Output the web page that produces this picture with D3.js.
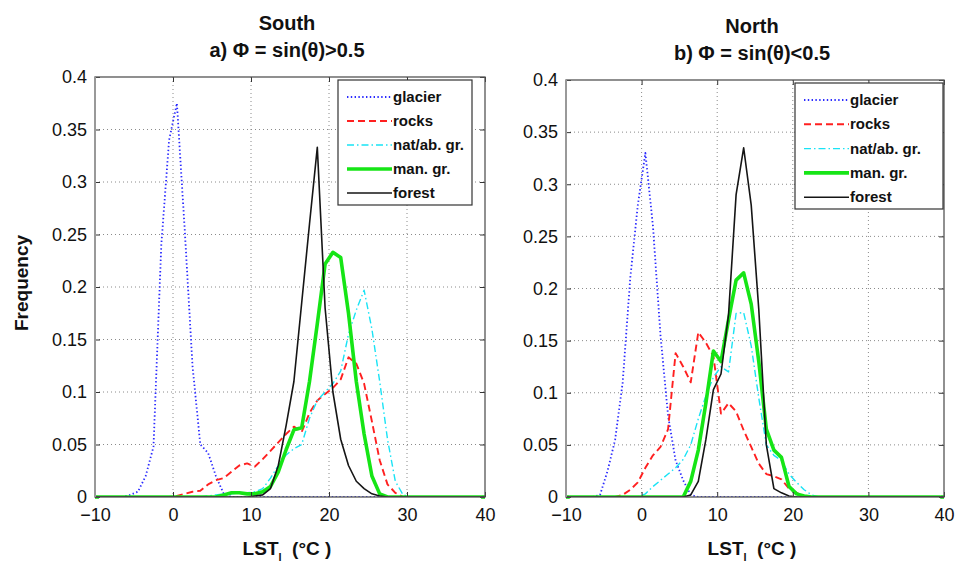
<!DOCTYPE html>
<html>
<head>
<meta charset="utf-8">
<script src="https://cdn.jsdelivr.net/npm/d3@7"></script>
<style>
  body { margin: 0; background: #fff; }
  text { font-family: 'Liberation Sans', Arial, sans-serif; fill: #111; }
</style>
</head>
<body>
<div id="d3-container"></div>
<script>
// histogram bin centres (deg C)
const lstBins = [
  -9.5, -8.5, -7.5, -6.5, -5.5, -4.5, -3.5, -2.5, -1.5, -0.5,
  0.5, 1.5, 2.5, 3.5, 4.5, 5.5, 6.5, 7.5, 8.5, 9.5,
  10.5, 11.5, 12.5, 13.5, 14.5, 15.5, 16.5, 17.5, 18.5, 19.5,
  20.5, 21.5, 22.5, 23.5, 24.5, 25.5, 26.5, 27.5, 28.5, 29.5,
  30.5, 31.5, 32.5, 33.5, 34.5, 35.5, 36.5, 37.5, 38.5, 39.5
];
const xTicks = [-10, 0, 10, 20, 30, 40];
const yTicks = [0, 0.05, 0.1, 0.15, 0.2, 0.25, 0.3, 0.35, 0.4];
const yTickLabels = ['0', '0.05', '0.1', '0.15', '0.2', '0.25', '0.3', '0.35', '0.4'];
const classNames = ['glacier', 'rocks', 'nat/ab. gr.', 'man. gr.', 'forest'];

// South, a) phi > 0.5
const southGlacier = [
  0, 0, 0, 0, 0.002, 0.005, 0.02, 0.048, 0.24, 0.34,
  0.375, 0.255, 0.125, 0.05, 0.042, 0.02, 0.003, 0, 0, 0,
  0, 0, 0, 0, 0, 0, 0, 0, 0, 0,
  0, 0, 0, 0, 0, 0, 0, 0, 0, 0,
  0, 0, 0, 0, 0, 0, 0, 0, 0, 0
];
const southRocks = [
  0, 0, 0, 0, 0, 0, 0, 0, 0, 0,
  0.001, 0.003, 0.005, 0.006, 0.012, 0.016, 0.018, 0.024, 0.03, 0.032,
  0.029, 0.036, 0.044, 0.052, 0.06, 0.067, 0.062, 0.08, 0.092, 0.098,
  0.104, 0.112, 0.133, 0.127, 0.108, 0.072, 0.035, 0.012, 0.004, 0,
  0, 0, 0, 0, 0, 0, 0, 0, 0, 0
];
const southNatural = [
  0, 0, 0, 0, 0, 0, 0, 0, 0, 0,
  0, 0, 0, 0, 0.001, 0.002, 0.003, 0.003, 0.004, 0.004,
  0.005, 0.008, 0.018, 0.03, 0.04, 0.046, 0.05, 0.075, 0.092, 0.1,
  0.108, 0.12, 0.155, 0.178, 0.197, 0.16, 0.11, 0.055, 0.015, 0.002,
  0, 0, 0, 0, 0, 0, 0, 0, 0, 0
];
const southManaged = [
  0, 0, 0, 0, 0, 0, 0, 0, 0, 0,
  0, 0, 0, 0, 0, 0, 0.002, 0.004, 0.004, 0.003,
  0.003, 0.005, 0.01, 0.024, 0.045, 0.064, 0.066, 0.11, 0.165, 0.222,
  0.233, 0.228, 0.175, 0.11, 0.06, 0.02, 0.003, 0, 0, 0,
  0, 0, 0, 0, 0, 0, 0, 0, 0, 0
];
const southForest = [
  0, 0, 0, 0, 0, 0, 0, 0, 0, 0,
  0, 0, 0, 0, 0, 0, 0, 0, 0, 0,
  0.001, 0.002, 0.008, 0.03, 0.068, 0.11, 0.185, 0.26, 0.333, 0.18,
  0.1, 0.055, 0.03, 0.015, 0.008, 0.003, 0.001, 0, 0, 0,
  0, 0, 0, 0, 0, 0, 0, 0, 0, 0
];

// North, b) phi < 0.5
const northGlacier = [
  0, 0, 0, 0, 0.002, 0.025, 0.055, 0.11, 0.21, 0.28,
  0.33, 0.26, 0.155, 0.078, 0.035, 0.016, 0.002, 0, 0, 0,
  0, 0, 0, 0, 0, 0, 0, 0, 0, 0,
  0, 0, 0, 0, 0, 0, 0, 0, 0, 0,
  0, 0, 0, 0, 0, 0, 0, 0, 0, 0
];
const northRocks = [
  0, 0, 0, 0, 0, 0, 0, 0.002, 0.007, 0.014,
  0.028, 0.04, 0.048, 0.065, 0.138, 0.125, 0.11, 0.158, 0.148, 0.135,
  0.08, 0.09, 0.082, 0.064, 0.048, 0.032, 0.022, 0.02, 0.017, 0.008,
  0.004, 0.001, 0, 0, 0, 0, 0, 0, 0, 0,
  0, 0, 0, 0, 0, 0, 0, 0, 0, 0
];
const northNatural = [
  0, 0, 0, 0, 0, 0, 0, 0, 0, 0,
  0.003, 0.01, 0.016, 0.022, 0.028, 0.036, 0.05, 0.075, 0.097, 0.115,
  0.125, 0.12, 0.176, 0.177, 0.145, 0.095, 0.05, 0.04, 0.035, 0.022,
  0.014, 0.007, 0.002, 0, 0, 0, 0, 0, 0, 0,
  0, 0, 0, 0, 0, 0, 0, 0, 0, 0
];
const northManaged = [
  0, 0, 0, 0, 0, 0, 0, 0, 0, 0,
  0, 0, 0, 0, 0, 0, 0.015, 0.045, 0.09, 0.14,
  0.13, 0.17, 0.208, 0.215, 0.185, 0.13, 0.065, 0.045, 0.038, 0.01,
  0.003, 0.001, 0, 0, 0, 0, 0, 0, 0, 0,
  0, 0, 0, 0, 0, 0, 0, 0, 0, 0
];
const northForest = [
  0, 0, 0, 0, 0, 0, 0, 0, 0, 0,
  0, 0, 0, 0, 0, 0, 0.002, 0.015, 0.055, 0.103,
  0.118, 0.175, 0.29, 0.335, 0.28, 0.18, 0.05, 0.008, 0.004, 0.001,
  0, 0, 0, 0, 0, 0, 0, 0, 0, 0,
  0, 0, 0, 0, 0, 0, 0, 0, 0, 0
];

// line styles, one per class
var styles = [
  { color: '#2a2aff', width: 1.8, dash: '1.4,2.4' },
  { color: '#ff2020', width: 1.9, dash: '7,4' },
  { color: '#19e3f5', width: 1.4, dash: '7,3,1.5,3' },
  { color: '#16e516', width: 3.6, dash: null },
  { color: '#151515', width: 1.6, dash: null }
];

var panels = [
  {
    id: 'south', title: 'South', sub: 'a) \u03A6 = sin(\u03B8)>0.5',
    left: 95, right: 485, top: 77, bottom: 497,
    series: [southGlacier, southRocks, southNatural, southManaged, southForest],
    legend: { x: 338, y: 80, w: 134, h: 125, rowY: 17, step: 24 },
    showYLabel: true
  },
  {
    id: 'north', title: 'North', sub: 'b) \u03A6 = sin(\u03B8)<0.5',
    left: 566, right: 944, top: 80, bottom: 497,
    series: [northGlacier, northRocks, northNatural, northManaged, northForest],
    legend: { x: 795, y: 83, w: 148, h: 126, rowY: 17, step: 24.3 },
    showYLabel: false
  }
];

var svg = d3
  .select('#d3-container')
  .append('svg')
  .attr('width', 956)
  .attr('height', 562)
  .style('background-color', 'white');

panels.forEach(function (p) {
  var x = d3.scaleLinear().domain([-10, 40]).range([p.left, p.right]);
  var y = d3.scaleLinear().domain([0, 0.4]).range([p.bottom, p.top]);
  var w = p.right - p.left,
    h = p.bottom - p.top;

  var g = svg.append('g');

  // dotted grid
  g.selectAll('.gx')
    .data(xTicks.slice(1, -1))
    .enter()
    .append('line')
    .attr('x1', function (d) { return x(d); })
    .attr('x2', function (d) { return x(d); })
    .attr('y1', p.top)
    .attr('y2', p.bottom)
    .attr('stroke', '#8a8a8a')
    .attr('stroke-width', 1)
    .attr('stroke-dasharray', '1,3');
  g.selectAll('.gy')
    .data(yTicks.slice(1, -1))
    .enter()
    .append('line')
    .attr('x1', p.left)
    .attr('x2', p.right)
    .attr('y1', function (d) { return y(d); })
    .attr('y2', function (d) { return y(d); })
    .attr('stroke', '#8a8a8a')
    .attr('stroke-width', 1)
    .attr('stroke-dasharray', '1,3');

  // curves
  g.append('clipPath')
    .attr('id', 'clip-' + p.id)
    .append('rect')
    .attr('x', p.left)
    .attr('y', p.top - 2)
    .attr('width', w)
    .attr('height', h + 2);

  var line = d3
    .line()
    .x(function (d, i) { return x(lstBins[i]); })
    .y(function (d) { return y(d); });

  p.series.forEach(function (vals, k) {
    var s = styles[k];
    g.append('path')
      .datum(vals)
      .attr('clip-path', 'url(#clip-' + p.id + ')')
      .attr('fill', 'none')
      .attr('stroke', s.color)
      .attr('stroke-width', s.width)
      .attr('stroke-linejoin', 'round')
      .attr('stroke-dasharray', s.dash)
      .attr('d', line);
    // flat tails to the plot edges
    g.append('line')
      .attr('x1', p.left)
      .attr('x2', x(lstBins[0]))
      .attr('y1', y(vals[0]))
      .attr('y2', y(vals[0]))
      .attr('stroke', s.color)
      .attr('stroke-width', s.width)
      .attr('stroke-dasharray', s.dash);
    g.append('line')
      .attr('x1', x(lstBins[lstBins.length - 1]))
      .attr('x2', p.right)
      .attr('y1', y(vals[vals.length - 1]))
      .attr('y2', y(vals[vals.length - 1]))
      .attr('stroke', s.color)
      .attr('stroke-width', s.width)
      .attr('stroke-dasharray', s.dash);
  });

  // axes with inward ticks
  g.append('g')
    .attr('transform', 'translate(0,' + p.bottom + ')')
    .call(d3.axisBottom(x).tickValues(xTicks).tickSize(-5).tickPadding(11).tickFormat(d3.format('d')));
  g.append('g')
    .attr('transform', 'translate(' + p.left + ',0)')
    .call(d3.axisLeft(y).tickValues(yTicks).tickSize(-5).tickPadding(8)
      .tickFormat(function (d, i) { return yTickLabels[i]; }));
  g.append('g')
    .attr('transform', 'translate(0,' + p.top + ')')
    .call(d3.axisTop(x).tickValues(xTicks).tickSize(-5).tickFormat(''));
  g.append('g')
    .attr('transform', 'translate(' + p.right + ',0)')
    .call(d3.axisRight(y).tickValues(yTicks).tickSize(-5).tickFormat(''));

  g.selectAll('.domain').remove();
  g.selectAll('.tick line').attr('stroke', '#333');
  g.selectAll('.tick text')
    .style('font-family', "'Liberation Sans', Arial, sans-serif")
    .style('font-size', '18px')
    .attr('fill', '#1a1a1a');

  // frame
  g.append('rect')
    .attr('x', p.left)
    .attr('y', p.top)
    .attr('width', w)
    .attr('height', h)
    .attr('fill', 'none')
    .attr('stroke', '#555')
    .attr('stroke-width', 1.3);
  g.append('line')
    .attr('x1', p.left)
    .attr('x2', p.left)
    .attr('y1', p.top)
    .attr('y2', p.bottom)
    .attr('stroke', '#999')
    .attr('stroke-width', 2);

  // legend
  var L = p.legend;
  var lg = g.append('g').attr('transform', 'translate(' + L.x + ',' + L.y + ')');
  lg.append('rect')
    .attr('width', L.w)
    .attr('height', L.h)
    .attr('fill', 'white')
    .attr('stroke', '#333')
    .attr('stroke-width', 1.2);
  classNames.forEach(function (name, k) {
    var s = styles[k];
    var ry = L.rowY + k * L.step;
    lg.append('line')
      .attr('x1', 9)
      .attr('x2', 54)
      .attr('y1', ry)
      .attr('y2', ry)
      .attr('stroke', s.color)
      .attr('stroke-width', s.width)
      .attr('stroke-dasharray', s.dash);
    lg.append('text')
      .attr('x', 55)
      .attr('y', ry + 5)
      .style('font-size', '15px')
      .style('font-weight', 'bold')
      .text(name);
  });

  // titles
  var cx = (p.left + p.right) / 2 - 3;
  g.append('text')
    .attr('x', cx)
    .attr('y', p.top - 47)
    .attr('text-anchor', 'middle')
    .style('font-size', '20px')
    .style('font-weight', 'bold')
    .text(p.title);
  g.append('text')
    .attr('x', cx)
    .attr('y', p.top - 20)
    .attr('text-anchor', 'middle')
    .style('font-size', '20px')
    .style('font-weight', 'bold')
    .text(p.sub);

  // x label
  var xl = g.append('text')
    .attr('x', cx)
    .attr('y', 555)
    .attr('text-anchor', 'middle')
    .style('font-size', '19px')
    .style('font-weight', 'bold');
  xl.append('tspan').text('LST');
  xl.append('tspan').attr('dy', 6).style('font-size', '11px').text('l');
  xl.append('tspan').attr('dy', -6).text('\u00a0\u00a0(\u00b0C )');

  if (p.showYLabel) {
    g.append('text')
      .attr('transform', 'translate(28,' + 283 + ') rotate(-90)')
      .attr('text-anchor', 'middle')
      .style('font-size', '19px')
      .style('font-weight', 'bold')
      .text('Frequency');
  }
});
</script>
</body>
</html>
